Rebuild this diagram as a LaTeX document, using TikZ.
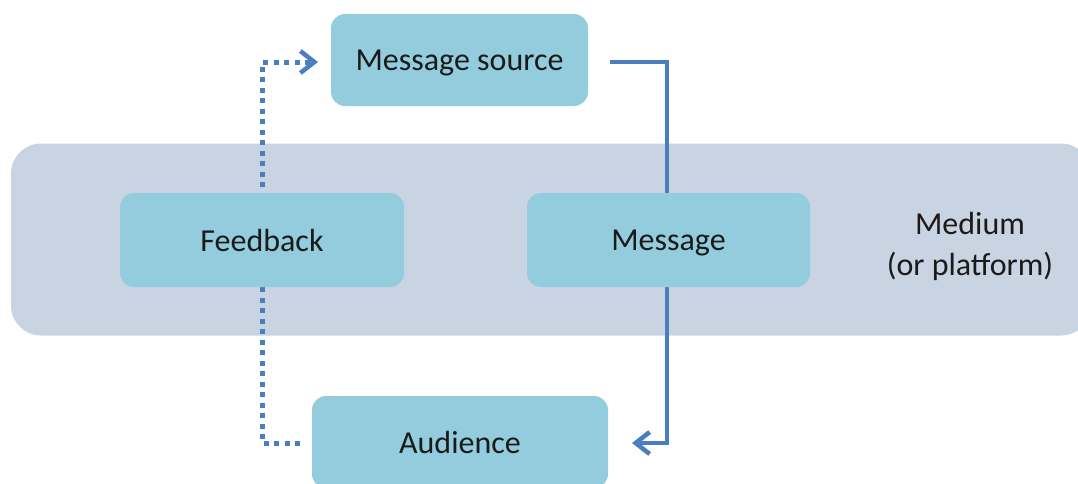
\documentclass[tikz,border=0pt]{standalone}
\usepackage{fontspec}
\setmainfont{Carlito}
\usetikzlibrary{arrows.meta}
\definecolor{boxfill}{HTML}{93CDDD}
\definecolor{bandfill}{HTML}{C9D4E2}
\definecolor{linecol}{HTML}{4A7EBF}
\definecolor{txt}{HTML}{1A1A1A}
\tikzset{
  box/.style={fill=boxfill, rounded corners=14pt, inner sep=0pt, text=txt,
    text depth=0pt, font=\fontsize{32}{38}\selectfont},
  flow/.style={draw=linecol, line width=4.5pt},
  fb/.style={draw=linecol, line width=5pt, dash pattern=on 5pt off 5.5pt},
  tip/.style={-{Straight Barb[length=14pt,width=22pt,line width=4.5pt]}}
}
\begin{document}
\begin{tikzpicture}[x=1pt,y=-1pt]
\useasboundingbox (0,0) rectangle (1078,483);
\clip (0,0) rectangle (1078,483);
% medium band
\node[fill=bandfill, rounded corners=30pt, minimum width=1080pt, minimum height=192pt, inner sep=0pt] (band) at (551,239.5) {};
\node[text=txt, font=\fontsize{32}{41}\selectfont, align=center] (medium) at (970,246) {Medium\\(or platform)};
% connector coordinates
\coordinate (s1) at (610,62);
\coordinate (s2) at (667,62);
\coordinate (s3) at (667,443);
\coordinate (s4) at (632,443);
\coordinate (d1) at (300,443);
\coordinate (d2) at (262,443);
\coordinate (d3) at (262,62);
\coordinate (d4) at (318,62);
\coordinate (d5) at (314,62);
\draw[flow, tip] (s1) -- (s2) -- (s3) -- (s4);
\draw[fb] (d1) -- (d2) -- (d3) -- (d5);
\draw[flow, tip] (d5) -- (d4);
% boxes
\node[box, minimum width=257pt, minimum height=92pt] (src) at (459.5,60) {Message source};
\node[box, minimum width=284pt, minimum height=94pt] (feedback) at (262,240) {Feedback};
\node[box, minimum width=283pt, minimum height=94pt] (msg) at (668.5,240) {Message};
\node[box, minimum width=296pt, minimum height=92pt] (aud) at (460,442) {Audience};
\end{tikzpicture}
\end{document}
